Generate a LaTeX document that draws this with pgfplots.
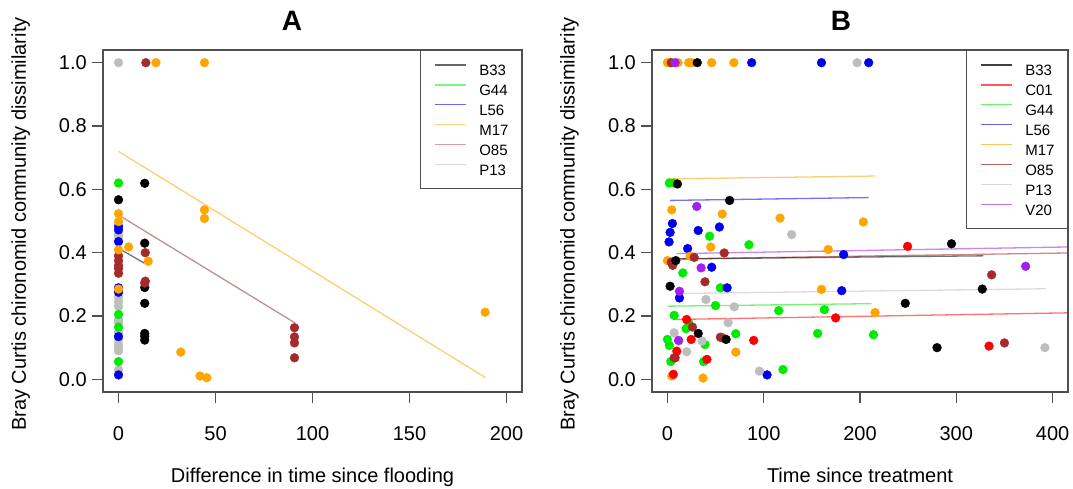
\documentclass[border=0pt]{standalone}
\usepackage{fontspec}
\setmainfont{Liberation Sans}
\usepackage{pgfplots}
\pgfplotsset{compat=1.18}

\definecolor{cB}{RGB}{0,0,0}
\definecolor{cC}{RGB}{255,0,0}
\definecolor{cG}{RGB}{0,235,0}
\definecolor{cL}{RGB}{0,0,238}
\definecolor{cM}{RGB}{255,165,0}
\definecolor{cO}{RGB}{165,42,42}
\definecolor{cP}{RGB}{190,190,190}
\definecolor{cV}{RGB}{160,32,240}
\definecolor{frame}{RGB}{80,80,80}

\pgfplotsset{
  panel/.style={
    scale only axis,
    height=342pt,
    ymin=-0.04, ymax=1.04,
    ytick={0,0.2,0.4,0.6,0.8,1.0},
    yticklabel style={/pgf/number format/fixed, /pgf/number format/fixed zerofill, /pgf/number format/precision=1},
    /pgf/number format/assume math mode=true,
    axis line style={draw=frame, line width=1.2pt},
    tick style={draw=frame, line width=1.2pt},
    tick align=outside,
    major tick length=11pt,
    xtick pos=bottom, ytick pos=left,
    tick label style={font=\fontsize{20}{24}\selectfont, inner sep=0pt},
    xticklabel style={anchor=base, yshift=-37pt},
    yticklabel style={anchor=east, xshift=-5pt},
    every axis x label/.style={at={(axis description cs:0.5,0)}, anchor=base, yshift=-90pt,
      font=\fontsize{20}{24}\selectfont},
    ylabel={Bray Curtis chironomid community dissimilarity},
    title style={font=\fontsize{28}{30}\selectfont\bfseries, anchor=base, yshift=13pt},
    legend cell align=left,
    legend style={at={(1,1)}, anchor=north east, draw=frame, line width=1.1pt,
      font=\fontsize{15}{15}\selectfont, inner xsep=13pt, inner ysep=13.5pt,
      row sep=8.4pt, column sep=13pt,
      nodes={inner sep=0pt, text height=11pt, text depth=0pt}},
    legend image code/.code={\draw[#1, line width=1.5pt] (0pt,5.3pt) -- (31pt,5.3pt);},
  },
  pts/.style={only marks, mark=*, mark size=4.4pt, color=#1, forget plot},
  fit/.style={#1, opacity=0.55, line width=1.3pt, forget plot},
  ylab/.style={every axis y label/.style={at={(axis description cs:#1,0.491)}, rotate=90, anchor=base,
      font=\fontsize{20}{24}\selectfont}},
}

\begin{document}
\begin{tikzpicture}
\useasboundingbox (0,0) rectangle (1073pt,488pt);

% panel A
\begin{axis}[panel,
  at={(103pt,96pt)}, anchor=south west, width=419pt,
  xmin=-8, xmax=208, xtick={0,50,100,150,200},
  xlabel={Difference in time since flooding},
  ylab=-0.1838,
  title={A}, title style={at={(axis description cs:0.451,1)}},
]
\addlegendimage{cB, opacity=0.6}\addlegendentry{B33}
\addlegendimage{cG, opacity=0.5}\addlegendentry{G44}
\addlegendimage{cL, opacity=0.6}\addlegendentry{L56}
\addlegendimage{cM, opacity=0.5}\addlegendentry{M17}
\addlegendimage{cO, opacity=0.45}\addlegendentry{O85}
\addlegendimage{cP, opacity=0.6}\addlegendentry{P13}

\addplot[pts=cP] coordinates {(0,1.0) (0,0.459) (0,0.45) (0,0.26) (0,0.245) (0,0.23) (0,0.19) (0,0.18) (0,0.15) (0,0.14) (0,0.125) (0,0.11) (0,0.10) (0,0.09) (0,0.03)};
\addplot[pts=cL] coordinates {(0,0.483) (0,0.472) (0,0.435) (0,0.289) (0,0.275) (0,0.135) (0,0.014)};
\addplot[pts=cG] coordinates {(0,0.62) (0,0.205) (0,0.165) (0,0.056)};
\addplot[pts=cB] coordinates {(0,0.567) (13.5,0.619) (13.5,0.43) (13.5,0.29) (13.5,0.24) (13.5,0.145) (13.5,0.136) (13.5,0.124)};
\addplot[pts=cO] coordinates {(14.1,1.0) (0,0.39) (0,0.375) (0,0.36) (0,0.35) (0,0.335) (13.8,0.40) (13.8,0.31) (13.5,0.304) (90.7,0.163) (90.7,0.134) (90.7,0.115) (90.7,0.068)};
\addplot[pts=cM] coordinates {(0,0.523) (0,0.498) (0,0.409) (5.2,0.418) (0,0.285) (15.3,0.373) (19.3,1.0) (44.3,1.0) (44.3,0.535) (44.3,0.508) (32.1,0.086) (42,0.0105) (45.5,0.005) (189,0.212)};

\addplot[fit=cM] coordinates {(0,0.72) (189.3,0.005)};
\addplot[fit={cO!60!frame}] coordinates {(0,0.519) (91,0.178)};
\addplot[fit=cB] coordinates {(0,0.414) (13.3,0.367)};
\end{axis}

% panel B
\begin{axis}[panel,
  at={(652pt,96pt)}, anchor=south west, width=416pt,
  xmin=-16, xmax=416, xtick={0,100,200,300,400},
  xlabel={Time since treatment},
  ylab=-0.1863,
  title={B}, title style={at={(axis description cs:0.454,1)}},
]
\addlegendimage{cB, opacity=0.75}\addlegendentry{B33}
\addlegendimage{cC, opacity=0.65}\addlegendentry{C01}
\addlegendimage{cG, opacity=0.6}\addlegendentry{G44}
\addlegendimage{cL, opacity=0.6}\addlegendentry{L56}
\addlegendimage{cM, opacity=0.65}\addlegendentry{M17}
\addlegendimage{cO, opacity=0.75}\addlegendentry{O85}
\addlegendimage{cP, opacity=0.6}\addlegendentry{P13}
\addlegendimage{cV, opacity=0.65}\addlegendentry{V20}

\addplot[pts=cG] coordinates {(2,0.62) (6.6,0.62) (43.8,0.452) (84.7,0.425) (16,0.336) (55,0.289) (50,0.233) (7,0.202) (115.6,0.217) (163,0.22) (0,0.126) (2,0.107) (19.4,0.16) (22,0.179) (3.5,0.056) (71,0.144) (39,0.11) (37.5,0.056) (156,0.145) (120,0.031) (214,0.141)};
\addplot[pts=cL] coordinates {(87.5,1.0) (160,1.0) (209,1.0) (1.7,0.434) (2.8,0.464) (5.2,0.492) (21,0.413) (32,0.47) (54,0.481) (46,0.354) (62,0.289) (12.5,0.257) (181,0.28) (183,0.394) (103.5,0.014)};
\addplot[pts=cP] coordinates {(197,1.0) (129,0.457) (40,0.252) (69.4,0.229) (63,0.179) (7,0.147) (20,0.087) (36,0.121) (95.5,0.026) (392,0.1) (12,0.12)};
\addplot[pts=cM] coordinates {(0,1.0) (3,1.0) (11,1.0) (22,1.0) (25,1.0) (46,1.0) (69,1.0) (4.5,0.535) (0,0.375) (57,0.522) (117,0.509) (203.5,0.497) (45,0.418) (23.6,0.389) (167,0.41) (160,0.284) (215.6,0.211) (71,0.086) (4.5,0.0105) (37,0.004)};
\addplot[pts=cC] coordinates {(20,0.189) (24.7,0.126) (9.7,0.089) (8,0.068) (41,0.063) (89.6,0.123) (174.7,0.194) (6.2,0.016) (249.4,0.42) (334,0.105)};
\addplot[pts=cO] coordinates {(4,1.0) (5.5,0.36) (4,0.37) (27.8,0.385) (59,0.399) (39,0.308) (26,0.165) (55,0.133) (57,0.131) (7,0.068) (336.7,0.33) (350,0.115)};
\addplot[pts=cB] coordinates {(31,1.0) (10.4,0.617) (64.6,0.565) (8.7,0.375) (2.8,0.294) (32,0.145) (61,0.126) (247,0.24) (295,0.428) (327,0.285) (280,0.1)};
\addplot[pts=cV] coordinates {(8,1.0) (30.5,0.546) (35,0.352) (12.5,0.278) (11.5,0.123) (372,0.357)};

\addplot[fit=cM] coordinates {(0,0.633) (216,0.642)};
\addplot[fit=cL] coordinates {(2.5,0.565) (209,0.574)};
\addplot[fit=cV] coordinates {(9.5,0.397) (416,0.418)};
\addplot[fit=cO] coordinates {(2.5,0.38) (416,0.399)};
\addplot[fit=cB] coordinates {(6,0.38) (328,0.39)};
\addplot[fit=cP] coordinates {(9.5,0.271) (393,0.286)};
\addplot[fit=cG] coordinates {(0,0.231) (212,0.239)};
\addplot[fit=cC] coordinates {(6,0.189) (416,0.21)};
\end{axis}
\end{tikzpicture}
\end{document}
